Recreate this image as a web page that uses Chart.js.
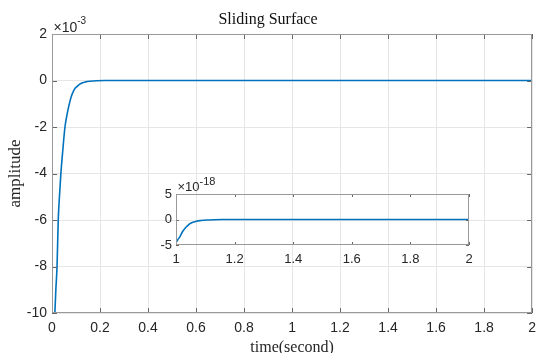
<!DOCTYPE html>
<html>
<head>
<meta charset="utf-8">
<script src="https://cdn.jsdelivr.net/npm/chart.js@4.4.0/dist/chart.umd.min.js"></script>
<style>
    body { margin: 0; background: #fff; }
    #wrap { position: relative; width: 543px; height: 353px; }
    #inset { position: absolute; left: 140px; top: 170px; }
</style>
</head>
<body>
<div id="wrap">
    <canvas id="MainChart" width="543" height="353"></canvas>
    <canvas id="inset" width="340" height="100"></canvas>
</div>
<script>
// main plot, amplitude in units of 1e-3
const mainTime = [0.012, 0.016, 0.021, 0.026, 0.031, 0.037, 0.045, 0.054, 0.062, 0.070, 0.080, 0.092, 0.105, 0.120, 0.140, 0.160, 0.185, 0.220, 0.300, 0.500, 1.000, 1.500, 2.000];
const mainAmp = [-10, -9, -8, -6, -5, -4, -3, -2, -1.5, -1.1, -0.7, -0.4, -0.25, -0.13, -0.06, -0.03, -0.01, 0, 0, 0, 0, 0, 0];
const mainXTicks = [0, 0.2, 0.4, 0.6, 0.8, 1, 1.2, 1.4, 1.6, 1.8, 2];
const mainYTicks = [-10, -8, -6, -4, -2, 0, 2];
const mainExp = '-3';

// inset plot, amplitude in units of 1e-18
const insetTime = [1.000, 1.007, 1.014, 1.022, 1.031, 1.040, 1.048, 1.058, 1.070, 1.085, 1.105, 1.130, 1.160, 1.200, 1.500, 2.000];
const insetAmp = [-4.5, -3.9, -3.3, -2.4, -1.7, -1.2, -0.8, -0.55, -0.33, -0.2, -0.1, -0.04, -0.01, 0, 0, 0];
const insetXTicks = [1, 1.2, 1.4, 1.6, 1.8, 2];
const insetYTicks = [-5, 0, 5];
const insetExp = '-18';

const tickFont = 'Liberation Sans';
const serifFont = 'Liberation Serif';
const lineBlue = '#0072BD';

const toPoints = (xs, ys) => xs.map((x, i) => ({ x: x, y: ys[i] }));
const fmt = (v) => String(Math.round(v * 10) / 10);

// box around the axes, inward tick marks and the x10^n label
const boxPlugin = {
    id: 'box',
    afterDraw(chart, args, opts) {
        const { ctx, chartArea: a, scales: { x, y } } = chart;
        ctx.save();
        ctx.lineWidth = 1;
        ctx.strokeStyle = '#666';
        ctx.beginPath();
        x.ticks.forEach((t) => {
            const px = Math.round(x.getPixelForValue(t.value)) + 0.5;
            ctx.moveTo(px, a.bottom); ctx.lineTo(px, a.bottom - opts.len);
            ctx.moveTo(px, a.top); ctx.lineTo(px, a.top + opts.len);
        });
        y.ticks.forEach((t) => {
            const py = Math.round(y.getPixelForValue(t.value)) + 0.5;
            ctx.moveTo(a.left, py); ctx.lineTo(a.left + opts.len, py);
            ctx.moveTo(a.right, py); ctx.lineTo(a.right - opts.len, py);
        });
        ctx.stroke();
        ctx.strokeStyle = '#999';
        ctx.strokeRect(Math.round(a.left) + 0.5, Math.round(a.top) + 0.5, Math.round(a.width) - 1, Math.round(a.height) - 1);

        ctx.fillStyle = '#262626';
        ctx.textBaseline = 'alphabetic';
        ctx.textAlign = 'left';
        ctx.font = opts.size + 'px "' + tickFont + '"';
        const bx = a.left + 1.5;
        ctx.fillText('\u00d710', bx, a.top - opts.base);
        const w = ctx.measureText('\u00d710').width;
        ctx.font = opts.supSize + 'px "' + tickFont + '"';
        ctx.fillText(opts.exp, bx + w, a.top - opts.supBase);
        ctx.restore();
    }
};

new Chart(document.getElementById('MainChart'), {
    type: 'scatter',
    data: {
        datasets: [{
            data: toPoints(mainTime, mainAmp),
            showLine: true,
            borderColor: lineBlue,
            borderWidth: 1.6,
            pointRadius: 0,
            cubicInterpolationMode: 'monotone'
        }]
    },
    options: {
        responsive: false,
        animation: false,
        layout: { padding: { left: 0, right: 7, top: 0, bottom: 0 } },
        scales: {
            x: {
                type: 'linear',
                min: 0,
                max: 2,
                afterBuildTicks: (s) => { s.ticks = mainXTicks.map(v => ({ value: v })); },
                afterFit: (s) => { s.height = 40; },
                grid: { color: '#e6e6e6', drawTicks: false },
                border: { display: false },
                ticks: {
                    padding: 7, maxRotation: 0, autoSkip: false,
                    color: '#262626', font: { family: tickFont, size: 14 },
                    callback: fmt
                },
                title: {
                    display: true, text: 'time(second)', color: '#262626',
                    font: { family: serifFont, size: 16, lineHeight: 0.7 },
                    padding: { top: 0, bottom: 0 }
                }
            },
            y: {
                min: -10,
                max: 2,
                afterBuildTicks: (s) => { s.ticks = mainYTicks.map(v => ({ value: v })); },
                afterFit: (s) => { s.width = 52; },
                grid: { color: '#e6e6e6', drawTicks: false },
                border: { display: false },
                ticks: {
                    padding: 5, color: '#262626', font: { family: tickFont, size: 14 },
                    callback: fmt
                },
                title: {
                    display: true, text: 'amplitude', color: '#262626',
                    font: { family: serifFont, size: 17 },
                    padding: { top: 5, bottom: 0 }
                }
            }
        },
        plugins: {
            legend: { display: false },
            tooltip: { enabled: false },
            title: {
                display: true, text: 'Sliding Surface', color: '#111',
                font: { family: serifFont, size: 16, weight: 'normal' },
                padding: { top: 10.4, bottom: 4.4 }
            },
            box: { len: 5, size: 14, supSize: 10, base: 2.3, supBase: 10, exp: mainExp }
        }
    },
    plugins: [boxPlugin]
});

new Chart(document.getElementById('inset'), {
    type: 'scatter',
    data: {
        datasets: [{
            data: toPoints(insetTime, insetAmp),
            showLine: true,
            borderColor: lineBlue,
            borderWidth: 1.6,
            pointRadius: 0,
            cubicInterpolationMode: 'monotone'
        }]
    },
    options: {
        responsive: false,
        animation: false,
        layout: { padding: { left: 0, right: 11, top: 24, bottom: 0 } },
        scales: {
            x: {
                type: 'linear',
                min: 1,
                max: 2,
                afterBuildTicks: (s) => { s.ticks = insetXTicks.map(v => ({ value: v })); },
                afterFit: (s) => { s.height = 25; },
                grid: { display: false, drawTicks: false },
                border: { display: false },
                ticks: {
                    padding: 7, maxRotation: 0, autoSkip: false,
                    color: '#262626', font: { family: tickFont, size: 13 },
                    callback: fmt
                }
            },
            y: {
                min: -5,
                max: 5,
                afterBuildTicks: (s) => { s.ticks = insetYTicks.map(v => ({ value: v })); },
                afterFit: (s) => { s.width = 36; },
                grid: { display: false, drawTicks: false },
                border: { display: false },
                ticks: {
                    padding: 4, color: '#262626', font: { family: tickFont, size: 13 },
                    callback: fmt
                }
            }
        },
        plugins: {
            legend: { display: false },
            tooltip: { enabled: false },
            box: { len: 3, size: 13, supSize: 11, base: 3.3, supBase: 9, exp: insetExp }
        }
    },
    plugins: [boxPlugin]
});
</script>
</body>
</html>
